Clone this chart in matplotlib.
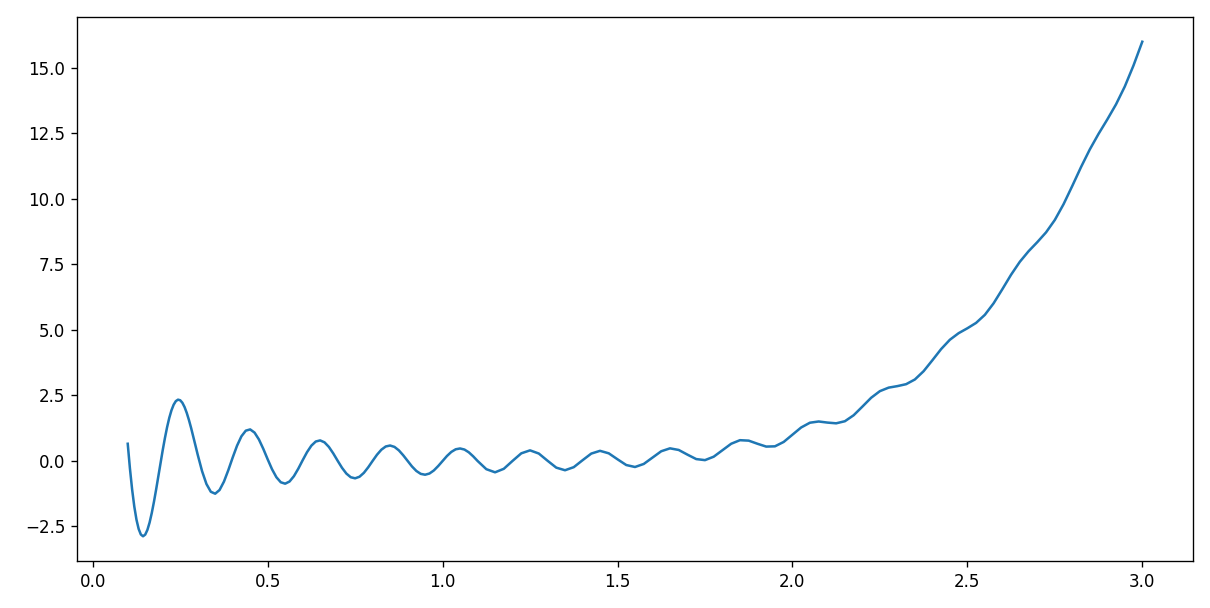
import matplotlib
matplotlib.use("Agg")
import matplotlib.pyplot as plt

# curve: fine steps where it wiggles hard, coarser later
x_a = [0.1, 0.10625, 0.1125, 0.11875, 0.125, 0.13125, 0.1375, 0.14375,
       0.15, 0.15625, 0.1625, 0.16875, 0.175, 0.18125, 0.1875, 0.19375,
       0.2, 0.20625, 0.2125, 0.21875, 0.225, 0.23125, 0.2375, 0.24375,
       0.25, 0.25625, 0.2625, 0.26875, 0.275, 0.28125, 0.2875, 0.29375,
       0.3, 0.3125, 0.325, 0.3375, 0.35, 0.3625, 0.375, 0.3875,
       0.4, 0.4125, 0.425, 0.4375, 0.45, 0.4625, 0.475, 0.4875,
       0.5, 0.5125, 0.525, 0.5375, 0.55, 0.5625, 0.575, 0.5875,
       0.6, 0.6125, 0.625, 0.6375, 0.65, 0.6625, 0.675, 0.6875,
       0.7, 0.7125, 0.725, 0.7375, 0.75, 0.7625, 0.775, 0.7875,
       0.8, 0.8125, 0.825, 0.8375, 0.85, 0.8625, 0.875, 0.8875,
       0.9, 0.9125, 0.925, 0.9375, 0.95, 0.9625, 0.975, 0.9875,
       1.0, 1.0125, 1.025, 1.0375, 1.05, 1.0625, 1.075, 1.0875, 1.1]
y_a = [0.656, -0.280, -1.082, -1.738, -2.242, -2.596, -2.807, -2.875,
       -2.811, -2.632, -2.351, -1.985, -1.557, -1.085, -0.585, -0.081,
       0.410, 0.870, 1.286, 1.644, 1.932, 2.146, 2.283, 2.339,
       2.316, 2.220, 2.056, 1.832, 1.561, 1.255, 0.924, 0.581,
       0.240, -0.390, -0.880, -1.176, -1.250, -1.109, -0.790, -0.353,
       0.130, 0.583, 0.941, 1.156, 1.203, 1.082, 0.820, 0.462,
       0.063, -0.317, -0.622, -0.814, -0.868, -0.785, -0.582, -0.297,
       0.026, 0.335, 0.585, 0.742, 0.784, 0.710, 0.535, 0.288,
       0.008, -0.262, -0.482, -0.622, -0.663, -0.603, -0.454, -0.241,
       0.002, 0.237, 0.429, 0.552, 0.589, 0.536, 0.404, 0.216,
       0.000, -0.210, -0.382, -0.493, -0.526, -0.480, -0.363, -0.194,
       0.000, 0.189, 0.345, 0.445, 0.476, 0.435, 0.329, 0.176, 0.000]

x_b = [1.125, 1.15, 1.175, 1.2, 1.225, 1.25, 1.275, 1.3,
       1.325, 1.35, 1.375, 1.4, 1.425, 1.45, 1.475, 1.5,
       1.525, 1.55, 1.575, 1.6, 1.625, 1.65, 1.675, 1.7,
       1.725, 1.75, 1.775, 1.8, 1.825, 1.85, 1.875, 1.9,
       1.925, 1.95, 1.975, 2.0, 2.025, 2.05, 2.075, 2.1,
       2.125, 2.15, 2.175, 2.2, 2.225, 2.25, 2.275, 2.3,
       2.325, 2.35, 2.375, 2.4, 2.425, 2.45, 2.475, 2.5,
       2.525, 2.55, 2.575, 2.6, 2.625, 2.65, 2.675, 2.7,
       2.725, 2.75, 2.775, 2.8, 2.825, 2.85, 2.875, 2.9,
       2.925, 2.95, 2.975, 3.0]
y_b = [-0.314, -0.434, -0.300, 0.002, 0.291, 0.404, 0.283, 0.008,
       -0.256, -0.355, -0.237, 0.026, 0.281, 0.386, 0.291, 0.063,
       -0.156, -0.231, -0.115, 0.130, 0.370, 0.481, 0.419, 0.240,
       0.071, 0.031, 0.162, 0.410, 0.657, 0.792, 0.775, 0.656,
       0.548, 0.558, 0.725, 1.000, 1.278, 1.459, 1.506, 1.464,
       1.436, 1.516, 1.744, 2.074, 2.411, 2.664, 2.798, 2.856,
       2.930, 3.109, 3.426, 3.842, 4.269, 4.625, 4.876, 5.063,
       5.269, 5.576, 6.016, 6.554, 7.108, 7.601, 8.004, 8.352,
       8.725, 9.197, 9.799, 10.498, 11.218, 11.889, 12.483, 13.032,
       13.611, 14.290, 15.096, 16.000]

x = x_a + x_b
y = y_a + y_b

fig = plt.figure(figsize=(10, 608 / 121), dpi=121)
ax = fig.add_axes([77 / 1210, 1 - 561 / 608, (1193 - 77) / 1210, (561 - 17) / 608])
ax.plot(x, y, color='#1f77b4', linewidth=1.5)

plt.savefig('out.png', dpi=121)
